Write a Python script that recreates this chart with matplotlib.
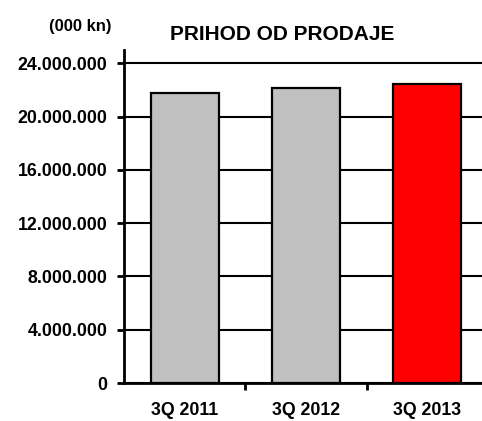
import numpy as np
import matplotlib.pyplot as plt
from matplotlib.ticker import FuncFormatter

plt.rc('font', family='Liberation Sans', weight='bold')

quarters = ['3Q 2011', '3Q 2012', '3Q 2013']
revenue = [21800000, 22120000, 22440000]
colors = ['#c0c0c0', '#c0c0c0', '#ff0000']
yticks = np.arange(0, 24000001, 4000000)

fig = plt.figure(figsize=(4.82, 4.21), dpi=100)
ax = fig.add_axes([124/482, 1 - 383/421, 364/482, 333/421])

x = np.arange(len(quarters))
ax.set_axisbelow(True)
ax.yaxis.grid(True, color='black', linewidth=1.5)
ax.bar(x, revenue, width=0.56, color=colors, edgecolor='black', linewidth=1.6, zorder=3)

ax.set_xlim(-0.5, len(quarters) - 0.5)
ax.set_ylim(0, 25000000)
ax.set_yticks(yticks)
ax.yaxis.set_major_formatter(FuncFormatter(lambda v, p: f'{int(v):,}'.replace(',', '.')))
ax.set_xticks(x)
ax.set_xticklabels(quarters)
ax.set_xticks(np.arange(0.5, len(quarters) - 0.5), minor=True)
ax.tick_params(axis='x', which='major', length=0, pad=14, labelsize=12.8)
ax.tick_params(axis='x', which='minor', length=5, width=2, direction='out')
ax.tick_params(axis='y', length=5, width=2, direction='out', labelsize=12.8, pad=7)

for s in ['top', 'right']:
    ax.spines[s].set_visible(False)
for s in ['left', 'bottom']:
    ax.spines[s].set_linewidth(2)

fig.text(80/482, 1 - 26/421, '(000 kn)', ha='center', va='center', fontsize=12, fontweight='bold')
fig.text(282/482, 1 - 34/421, 'PRIHOD OD PRODAJE', ha='center', va='center', fontsize=15, fontweight='bold')

plt.savefig('out.png', dpi=100)
